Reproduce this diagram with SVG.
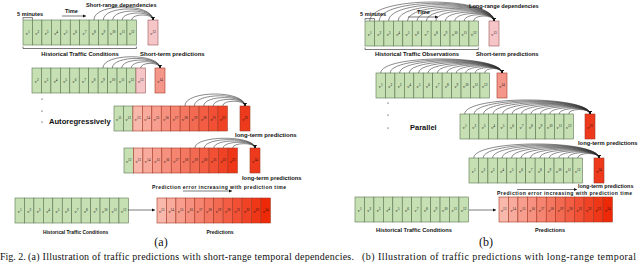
<svg xmlns="http://www.w3.org/2000/svg" width="640" height="262" viewBox="0 0 640 262">
<style>
.g{fill:#c6e0b4;stroke:#5a7550;stroke-width:.6}
.pk{fill:#f6c5c8;stroke:#9c5656;stroke-width:.6}
.p1,.p2,.p3,.p4,.p5,.p6,.p7,.p8,.p9,.p10,.p11,.p12,.sal,.red{stroke:#a63a26;stroke-width:.6}
.p1{fill:#f9b8ac}.p2{fill:#f8ab9d}.p3{fill:#f79e8e}.p4{fill:#f6917f}.p5{fill:#f58470}.p6{fill:#f47761}
.p7{fill:#f36a52}.p8{fill:#f25d43}.p9{fill:#f15034}.p10{fill:#f04325}.p11{fill:#ef3616}.p12{fill:#ee2907}
.sal{fill:#f4968a}.red{fill:#ee3a1c}
.lb{font-family:"Liberation Serif","DejaVu Serif",serif;font-style:italic;font-size:4.8px;text-anchor:middle;fill:#111}
.sp{font-size:3.4px;font-style:normal}
.t{font-family:"Liberation Sans",Arial,sans-serif;font-weight:bold;fill:#111}
.arc{fill:none;stroke:#2a2a2a;stroke-width:.55;marker-end:url(#ah)}
.ln{fill:none;stroke:#222;stroke-width:.6}
.ar{fill:none;stroke:#222;stroke-width:.6;marker-end:url(#ah)}
.cap{font-family:"Liberation Serif","Times New Roman",serif;fill:#111}
.dot{fill:#111}
</style>
<defs>
<marker id="ah" viewBox="0 0 6 6" refX="6" refY="3" markerWidth="3.5" markerHeight="3.5" orient="auto" markerUnits="userSpaceOnUse"><path d="M0,0 L6,3 L0,6 z" fill="#111"/></marker>
<g id="h12">
<rect class="g" x="0" width="9.45" height="25"/><rect class="g" x="9.45" width="9.45" height="25"/><rect class="g" x="18.9" width="9.45" height="25"/><rect class="g" x="28.35" width="9.45" height="25"/><rect class="g" x="37.8" width="9.45" height="25"/><rect class="g" x="47.25" width="9.45" height="25"/><rect class="g" x="56.7" width="9.45" height="25"/><rect class="g" x="66.15" width="9.45" height="25"/><rect class="g" x="75.6" width="9.45" height="25"/><rect class="g" x="85.05" width="9.45" height="25"/><rect class="g" x="94.5" width="9.45" height="25"/><rect class="g" x="103.95" width="9.45" height="25"/>
<text class="lb" x="4.73" y="15">v<tspan class="sp" dy="-1.8">1</tspan></text>
<text class="lb" x="14.18" y="15">v<tspan class="sp" dy="-1.8">2</tspan></text>
<text class="lb" x="23.63" y="15">v<tspan class="sp" dy="-1.8">3</tspan></text>
<text class="lb" x="33.08" y="15">v<tspan class="sp" dy="-1.8">4</tspan></text>
<text class="lb" x="42.53" y="15">v<tspan class="sp" dy="-1.8">5</tspan></text>
<text class="lb" x="51.98" y="15">v<tspan class="sp" dy="-1.8">6</tspan></text>
<text class="lb" x="61.43" y="15">v<tspan class="sp" dy="-1.8">7</tspan></text>
<text class="lb" x="70.88" y="15">v<tspan class="sp" dy="-1.8">8</tspan></text>
<text class="lb" x="80.33" y="15">v<tspan class="sp" dy="-1.8">9</tspan></text>
<text class="lb" x="89.78" y="15">v<tspan class="sp" dy="-1.8">10</tspan></text>
<text class="lb" x="99.23" y="15">v<tspan class="sp" dy="-1.8">11</tspan></text>
<text class="lb" x="108.68" y="15">v<tspan class="sp" dy="-1.8">12</tspan></text>
</g>
<g id="pr12">
<rect class="p1" x="0" width="9.45" height="25"/><rect class="p2" x="9.45" width="9.45" height="25"/><rect class="p3" x="18.9" width="9.45" height="25"/><rect class="p4" x="28.35" width="9.45" height="25"/><rect class="p5" x="37.8" width="9.45" height="25"/><rect class="p6" x="47.25" width="9.45" height="25"/><rect class="p7" x="56.7" width="9.45" height="25"/><rect class="p8" x="66.15" width="9.45" height="25"/><rect class="p9" x="75.6" width="9.45" height="25"/><rect class="p10" x="85.05" width="9.45" height="25"/><rect class="p11" x="94.5" width="9.45" height="25"/><rect class="p12" x="103.95" width="9.45" height="25"/>
<text class="lb" x="4.73" y="15">v<tspan class="sp" dy="-1.8">13</tspan></text>
<text class="lb" x="14.18" y="15">v<tspan class="sp" dy="-1.8">14</tspan></text>
<text class="lb" x="23.63" y="15">v<tspan class="sp" dy="-1.8">15</tspan></text>
<text class="lb" x="33.08" y="15">v<tspan class="sp" dy="-1.8">16</tspan></text>
<text class="lb" x="42.53" y="15">v<tspan class="sp" dy="-1.8">17</tspan></text>
<text class="lb" x="51.98" y="15">v<tspan class="sp" dy="-1.8">18</tspan></text>
<text class="lb" x="61.43" y="15">v<tspan class="sp" dy="-1.8">19</tspan></text>
<text class="lb" x="70.88" y="15">v<tspan class="sp" dy="-1.8">20</tspan></text>
<text class="lb" x="80.33" y="15">v<tspan class="sp" dy="-1.8">21</tspan></text>
<text class="lb" x="89.78" y="15">v<tspan class="sp" dy="-1.8">22</tspan></text>
<text class="lb" x="99.23" y="15">v<tspan class="sp" dy="-1.8">23</tspan></text>
<text class="lb" x="108.68" y="15">v<tspan class="sp" dy="-1.8">24</tspan></text>
</g>
</defs>
<rect width="640" height="262" fill="#fff"/>

<!-- Panel (a) nodes -->
<g id="a-row1-hist"><use href="#h12" x="23" y="20"/></g>
<g id="a-row1-target"><rect class="pk" x="148" y="20" width="10" height="25"/><text class="lb" x="153" y="35">v<tspan class="sp" dy="-1.8">13</tspan></text></g>

<g id="a-row2" transform="translate(32,68)">
<rect class="g" x="0" width="9.45" height="25"/><rect class="g" x="9.45" width="9.45" height="25"/><rect class="g" x="18.9" width="9.45" height="25"/><rect class="g" x="28.35" width="9.45" height="25"/><rect class="g" x="37.8" width="9.45" height="25"/><rect class="g" x="47.25" width="9.45" height="25"/><rect class="g" x="56.7" width="9.45" height="25"/><rect class="g" x="66.15" width="9.45" height="25"/><rect class="g" x="75.6" width="9.45" height="25"/><rect class="g" x="85.05" width="9.45" height="25"/><rect class="g" x="94.5" width="9.45" height="25"/><rect class="pk" x="103.95" width="9.45" height="25"/>
<text class="lb" x="4.73" y="15">v<tspan class="sp" dy="-1.8">2</tspan></text>
<text class="lb" x="14.18" y="15">v<tspan class="sp" dy="-1.8">3</tspan></text>
<text class="lb" x="23.63" y="15">v<tspan class="sp" dy="-1.8">4</tspan></text>
<text class="lb" x="33.08" y="15">v<tspan class="sp" dy="-1.8">5</tspan></text>
<text class="lb" x="42.53" y="15">v<tspan class="sp" dy="-1.8">6</tspan></text>
<text class="lb" x="51.98" y="15">v<tspan class="sp" dy="-1.8">7</tspan></text>
<text class="lb" x="61.43" y="15">v<tspan class="sp" dy="-1.8">8</tspan></text>
<text class="lb" x="70.88" y="15">v<tspan class="sp" dy="-1.8">9</tspan></text>
<text class="lb" x="80.33" y="15">v<tspan class="sp" dy="-1.8">10</tspan></text>
<text class="lb" x="89.78" y="15">v<tspan class="sp" dy="-1.8">11</tspan></text>
<text class="lb" x="99.23" y="15">v<tspan class="sp" dy="-1.8">12</tspan></text>
<text class="lb" x="108.68" y="15">v<tspan class="sp" dy="-1.8">13</tspan></text>
</g>
<g id="a-row2-target"><rect class="sal" x="155" y="68" width="10" height="25"/><text class="lb" x="160" y="83">v<tspan class="sp" dy="-1.8">14</tspan></text></g>

<g id="a-row3" transform="translate(114,106)">
<rect class="g" x="0" width="9.45" height="25"/><rect class="g" x="9.45" width="9.45" height="25"/><rect class="p1" x="18.9" width="9.45" height="25"/><rect class="p2" x="28.35" width="9.45" height="25"/><rect class="p3" x="37.8" width="9.45" height="25"/><rect class="p4" x="47.25" width="9.45" height="25"/><rect class="p5" x="56.7" width="9.45" height="25"/><rect class="p6" x="66.15" width="9.45" height="25"/><rect class="p7" x="75.6" width="9.45" height="25"/><rect class="p8" x="85.05" width="9.45" height="25"/><rect class="p9" x="94.5" width="9.45" height="25"/><rect class="p10" x="103.95" width="9.45" height="25"/>
<text class="lb" x="4.73" y="15">v<tspan class="sp" dy="-1.8">11</tspan></text>
<text class="lb" x="14.18" y="15">v<tspan class="sp" dy="-1.8">12</tspan></text>
<text class="lb" x="23.63" y="15">v<tspan class="sp" dy="-1.8">13</tspan></text>
<text class="lb" x="33.08" y="15">v<tspan class="sp" dy="-1.8">14</tspan></text>
<text class="lb" x="42.53" y="15">v<tspan class="sp" dy="-1.8">15</tspan></text>
<text class="lb" x="51.98" y="15">v<tspan class="sp" dy="-1.8">16</tspan></text>
<text class="lb" x="61.43" y="15">v<tspan class="sp" dy="-1.8">17</tspan></text>
<text class="lb" x="70.88" y="15">v<tspan class="sp" dy="-1.8">18</tspan></text>
<text class="lb" x="80.33" y="15">v<tspan class="sp" dy="-1.8">19</tspan></text>
<text class="lb" x="89.78" y="15">v<tspan class="sp" dy="-1.8">20</tspan></text>
<text class="lb" x="99.23" y="15">v<tspan class="sp" dy="-1.8">21</tspan></text>
<text class="lb" x="108.68" y="15">v<tspan class="sp" dy="-1.8">22</tspan></text>
</g>
<g id="a-row3-target"><rect class="red" x="240" y="106" width="10" height="25"/><text class="lb" x="245" y="121">v<tspan class="sp" dy="-1.8">23</tspan></text></g>

<g id="a-row4" transform="translate(124,148)">
<rect class="g" x="0" width="9.45" height="25"/><rect class="p1" x="9.45" width="9.45" height="25"/><rect class="p2" x="18.9" width="9.45" height="25"/><rect class="p3" x="28.35" width="9.45" height="25"/><rect class="p4" x="37.8" width="9.45" height="25"/><rect class="p5" x="47.25" width="9.45" height="25"/><rect class="p6" x="56.7" width="9.45" height="25"/><rect class="p7" x="66.15" width="9.45" height="25"/><rect class="p8" x="75.6" width="9.45" height="25"/><rect class="p9" x="85.05" width="9.45" height="25"/><rect class="p10" x="94.5" width="9.45" height="25"/><rect class="p11" x="103.95" width="9.45" height="25"/>
<text class="lb" x="4.73" y="15">v<tspan class="sp" dy="-1.8">12</tspan></text>
<text class="lb" x="14.18" y="15">v<tspan class="sp" dy="-1.8">13</tspan></text>
<text class="lb" x="23.63" y="15">v<tspan class="sp" dy="-1.8">14</tspan></text>
<text class="lb" x="33.08" y="15">v<tspan class="sp" dy="-1.8">15</tspan></text>
<text class="lb" x="42.53" y="15">v<tspan class="sp" dy="-1.8">16</tspan></text>
<text class="lb" x="51.98" y="15">v<tspan class="sp" dy="-1.8">17</tspan></text>
<text class="lb" x="61.43" y="15">v<tspan class="sp" dy="-1.8">18</tspan></text>
<text class="lb" x="70.88" y="15">v<tspan class="sp" dy="-1.8">19</tspan></text>
<text class="lb" x="80.33" y="15">v<tspan class="sp" dy="-1.8">20</tspan></text>
<text class="lb" x="89.78" y="15">v<tspan class="sp" dy="-1.8">21</tspan></text>
<text class="lb" x="99.23" y="15">v<tspan class="sp" dy="-1.8">22</tspan></text>
<text class="lb" x="108.68" y="15">v<tspan class="sp" dy="-1.8">23</tspan></text>
</g>
<g id="a-row4-target"><rect class="red" x="250" y="148" width="10" height="25"/><text class="lb" x="255" y="163">v<tspan class="sp" dy="-1.8">24</tspan></text></g>

<g id="a-bottom-hist"><use href="#h12" x="15" y="198"/></g>
<g id="a-bottom-pred"><use href="#pr12" x="157" y="198"/></g>

<!-- Panel (b) nodes -->
<g id="b-row1-hist"><use href="#h12" x="365" y="21"/></g>
<g id="b-row1-target"><rect class="pk" x="489" y="21" width="10" height="25"/><text class="lb" x="494" y="36">v<tspan class="sp" dy="-1.8">13</tspan></text></g>
<g id="b-row2-hist"><use href="#h12" x="376" y="73"/></g>
<g id="b-row2-target"><rect class="sal" x="497" y="73" width="10" height="25"/><text class="lb" x="502" y="88">v<tspan class="sp" dy="-1.8">14</tspan></text></g>
<g id="b-row3-hist"><use href="#h12" x="460" y="114"/></g>
<g id="b-row3-target"><rect class="red" x="585" y="114" width="10" height="25"/><text class="lb" x="590" y="129">v<tspan class="sp" dy="-1.8">23</tspan></text></g>
<g id="b-row4-hist"><use href="#h12" x="469" y="158"/></g>
<g id="b-row4-target"><rect class="red" x="594" y="158" width="10" height="25"/><text class="lb" x="599" y="173">v<tspan class="sp" dy="-1.8">24</tspan></text></g>
<g id="b-bottom-hist"><use href="#h12" x="355" y="197"/></g>
<g id="b-bottom-pred"><use href="#pr12" x="499" y="197"/></g>

<!-- Connectors -->
<g id="connectors">
<g transform="translate(23,20)">
<path class="arc" d="M70.88,0C70.88,-17.3 130,-17.3 130,0"/>
<path class="arc" d="M80.33,0C80.33,-14.7 130,-14.7 130,0"/>
<path class="arc" d="M89.78,0C89.78,-12 130,-12 130,0"/>
<path class="arc" d="M99.23,0C99.23,-9.3 130,-9.3 130,0"/>
<path class="arc" d="M108.68,0C108.68,-6.7 130,-6.7 130,0"/>
</g>
<g transform="translate(32,68)">
<path class="arc" d="M70.88,0C70.88,-15 128,-15 128,0"/>
<path class="arc" d="M80.33,0C80.33,-12.8 128,-12.8 128,0"/>
<path class="arc" d="M89.78,0C89.78,-10.6 128,-10.6 128,0"/>
<path class="arc" d="M99.23,0C99.23,-8.4 128,-8.4 128,0"/>
<path class="arc" d="M108.68,0C108.68,-6.2 128,-6.2 128,0"/>
</g>
<g transform="translate(114,106)">
<path class="arc" d="M70.88,0C70.88,-16 131,-16 131,0"/>
<path class="arc" d="M80.33,0C80.33,-13.6 131,-13.6 131,0"/>
<path class="arc" d="M89.78,0C89.78,-11.2 131,-11.2 131,0"/>
<path class="arc" d="M99.23,0C99.23,-8.8 131,-8.8 131,0"/>
<path class="arc" d="M108.68,0C108.68,-6.4 131,-6.4 131,0"/>
</g>
<g transform="translate(124,148)">
<path class="arc" d="M70.88,0C70.88,-13 131,-13 131,0"/>
<path class="arc" d="M80.33,0C80.33,-11.2 131,-11.2 131,0"/>
<path class="arc" d="M89.78,0C89.78,-9.4 131,-9.4 131,0"/>
<path class="arc" d="M99.23,0C99.23,-7.6 131,-7.6 131,0"/>
<path class="arc" d="M108.68,0C108.68,-5.8 131,-5.8 131,0"/>
</g>
<g transform="translate(365,21)">
<path class="arc" d="M4.73,0C4.73,-25.3 129,-25.3 129,0"/>
<path class="arc" d="M14.18,0C14.18,-23.6 129,-23.6 129,0"/>
<path class="arc" d="M23.63,0C23.63,-21.9 129,-21.9 129,0"/>
<path class="arc" d="M33.08,0C33.08,-20.2 129,-20.2 129,0"/>
<path class="arc" d="M42.53,0C42.53,-18.5 129,-18.5 129,0"/>
<path class="arc" d="M51.98,0C51.98,-16.8 129,-16.8 129,0"/>
<path class="arc" d="M61.43,0C61.43,-15.1 129,-15.1 129,0"/>
<path class="arc" d="M70.88,0C70.88,-13.5 129,-13.5 129,0"/>
<path class="arc" d="M80.33,0C80.33,-11.8 129,-11.8 129,0"/>
<path class="arc" d="M89.78,0C89.78,-10.1 129,-10.1 129,0"/>
<path class="arc" d="M99.23,0C99.23,-8.4 129,-8.4 129,0"/>
<path class="arc" d="M108.68,0C108.68,-6.7 129,-6.7 129,0"/>
</g>
<g transform="translate(376,73)">
<path class="arc" d="M4.73,0C4.73,-18.7 126,-18.7 126,0"/>
<path class="arc" d="M14.18,0C14.18,-17.5 126,-17.5 126,0"/>
<path class="arc" d="M23.63,0C23.63,-16.4 126,-16.4 126,0"/>
<path class="arc" d="M33.08,0C33.08,-15.2 126,-15.2 126,0"/>
<path class="arc" d="M42.53,0C42.53,-14.1 126,-14.1 126,0"/>
<path class="arc" d="M51.98,0C51.98,-12.9 126,-12.9 126,0"/>
<path class="arc" d="M61.43,0C61.43,-11.8 126,-11.8 126,0"/>
<path class="arc" d="M70.88,0C70.88,-10.6 126,-10.6 126,0"/>
<path class="arc" d="M80.33,0C80.33,-9.5 126,-9.5 126,0"/>
<path class="arc" d="M89.78,0C89.78,-8.3 126,-8.3 126,0"/>
<path class="arc" d="M99.23,0C99.23,-7.2 126,-7.2 126,0"/>
<path class="arc" d="M108.68,0C108.68,-6 126,-6 126,0"/>
</g>
<g transform="translate(460,114)">
<path class="arc" d="M4.73,0C4.73,-18.7 130,-18.7 130,0"/>
<path class="arc" d="M14.18,0C14.18,-17.5 130,-17.5 130,0"/>
<path class="arc" d="M23.63,0C23.63,-16.4 130,-16.4 130,0"/>
<path class="arc" d="M33.08,0C33.08,-15.2 130,-15.2 130,0"/>
<path class="arc" d="M42.53,0C42.53,-14.1 130,-14.1 130,0"/>
<path class="arc" d="M51.98,0C51.98,-12.9 130,-12.9 130,0"/>
<path class="arc" d="M61.43,0C61.43,-11.8 130,-11.8 130,0"/>
<path class="arc" d="M70.88,0C70.88,-10.6 130,-10.6 130,0"/>
<path class="arc" d="M80.33,0C80.33,-9.5 130,-9.5 130,0"/>
<path class="arc" d="M89.78,0C89.78,-8.3 130,-8.3 130,0"/>
<path class="arc" d="M99.23,0C99.23,-7.2 130,-7.2 130,0"/>
<path class="arc" d="M108.68,0C108.68,-6 130,-6 130,0"/>
</g>
<g transform="translate(469,158)">
<path class="arc" d="M4.73,0C4.73,-18.7 130,-18.7 130,0"/>
<path class="arc" d="M14.18,0C14.18,-17.5 130,-17.5 130,0"/>
<path class="arc" d="M23.63,0C23.63,-16.4 130,-16.4 130,0"/>
<path class="arc" d="M33.08,0C33.08,-15.2 130,-15.2 130,0"/>
<path class="arc" d="M42.53,0C42.53,-14.1 130,-14.1 130,0"/>
<path class="arc" d="M51.98,0C51.98,-12.9 130,-12.9 130,0"/>
<path class="arc" d="M61.43,0C61.43,-11.8 130,-11.8 130,0"/>
<path class="arc" d="M70.88,0C70.88,-10.6 130,-10.6 130,0"/>
<path class="arc" d="M80.33,0C80.33,-9.5 130,-9.5 130,0"/>
<path class="arc" d="M89.78,0C89.78,-8.3 130,-8.3 130,0"/>
<path class="arc" d="M99.23,0C99.23,-7.2 130,-7.2 130,0"/>
<path class="arc" d="M108.68,0C108.68,-6 130,-6 130,0"/>
</g>
<path class="ar" d="M62,16H86"/>
<path class="ar" d="M183,191H232"/>
<path class="ar" d="M128,210H155"/>
<path class="ar" d="M408,17H438"/>
<path class="ar" d="M517,189.5H577"/>
<path class="ar" d="M469,210H496"/>
</g>

<!-- Brackets and labels (a) -->
<g id="a-labels">
<path class="ln" d="M23,19.5V17.6H32.45V19.5"/>
<path class="ln" d="M23,46.5V48.5H136.4V46.5"/>
<text class="t" x="17" y="15.5" font-size="5.6">5 minutes</text>
<text class="t" x="65" y="13" font-size="5.6">Time</text>
<text class="t" x="86" y="7" font-size="5.6">Short-range dependencies</text>
<text class="t" x="80" y="55.5" font-size="5.8" text-anchor="middle">Historical Traffic Conditions</text>
<text class="t" x="140" y="55.5" font-size="6">Short-term predictions</text>
<circle class="dot" cx="42" cy="99" r="0.6"/><circle class="dot" cx="42" cy="111" r="0.6"/><circle class="dot" cx="42" cy="122" r="0.6"/>
<text class="t" x="49" y="124" font-size="7.6">Autoregressively</text>
<text class="t" x="235" y="136.5" font-size="6">long-term predictions</text>
<text class="t" x="242" y="179.5" font-size="5.8">long-term predictions</text>
<text class="t" x="152" y="189" font-size="5.1" textLength="134">Prediction error increasing with prediction time</text>
<text class="t" x="75.5" y="234" font-size="4.9" text-anchor="middle">Historical Traffic Conditions</text>
<text class="t" x="220" y="234" font-size="5" text-anchor="middle">Predictions</text>
<text class="cap" x="161" y="246" font-size="12" text-anchor="middle">(a)</text>
</g>

<!-- Brackets and labels (b) -->
<g id="b-labels">
<path class="ln" d="M365,20.5V18.6H374.45V20.5"/>
<path class="ln" d="M365,47.5V49.5H478.4V47.5"/>
<text class="t" x="360" y="15.5" font-size="5.6">5 minutes</text>
<text class="t" x="417" y="14" font-size="5.6">Time</text>
<text class="t" x="469" y="7.5" font-size="5.6">Long-range dependencies</text>
<text class="t" x="417" y="55.5" font-size="5.8" text-anchor="middle">Historical Traffic Observations</text>
<text class="t" x="476" y="55.5" font-size="5.8">Short-term predictions</text>
<circle class="dot" cx="388" cy="103" r="0.6"/><circle class="dot" cx="388" cy="115" r="0.6"/><circle class="dot" cx="388" cy="128" r="0.6"/>
<text class="t" x="410" y="130" font-size="7.5">Parallel</text>
<text class="t" x="578" y="145" font-size="5.8">long-term predictions</text>
<text class="t" x="578" y="188" font-size="5.4">long-term predictions</text>
<text class="t" x="497" y="194.5" font-size="5.1" textLength="135">Prediction error increasing with prediction time</text>
<text class="t" x="414" y="232" font-size="5.7" text-anchor="middle">Historical Traffic Conditions</text>
<text class="t" x="550" y="232" font-size="5.5" text-anchor="middle">Predictions</text>
<text class="cap" x="486" y="246" font-size="12" text-anchor="middle">(b)</text>
</g>

<g id="caption">
<text class="cap" x="0" y="259.5" font-size="10">Fig. 2.</text>
<text class="cap" x="28" y="259.5" font-size="10" textLength="326">(a) Illustration of traffic predictions with short-range temporal dependencies.</text>
<text class="cap" x="362" y="259.5" font-size="10" textLength="274">(b) Illustration of traffic predictions with long-range temporal</text>
</g>
</svg>
